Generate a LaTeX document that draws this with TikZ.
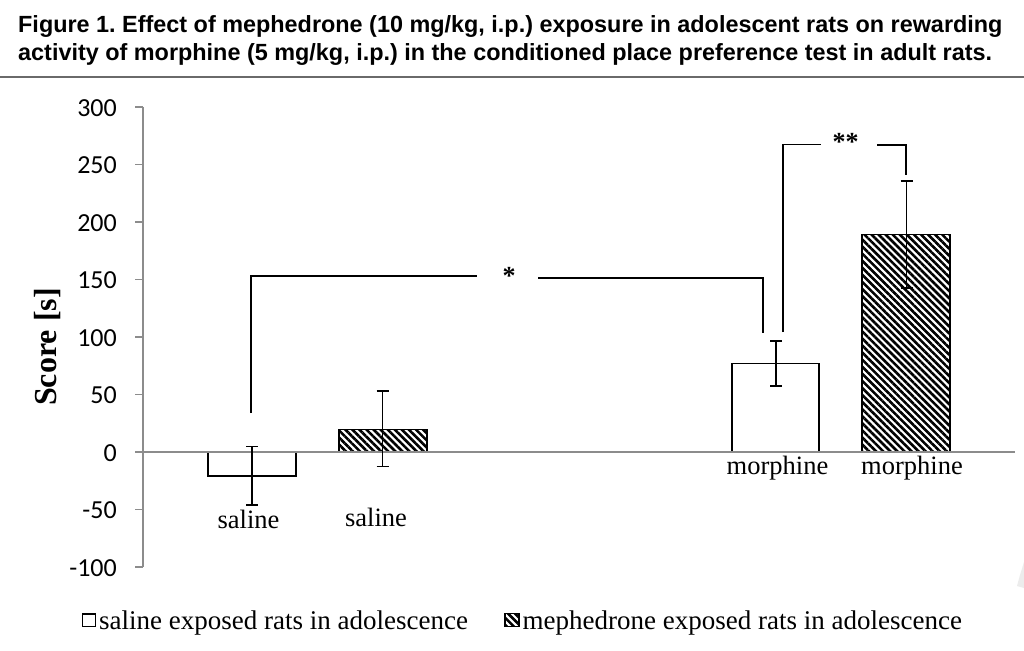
\documentclass[tikz,border=0pt]{standalone}
\usepackage{fontspec}
\setmainfont{Liberation Serif}
\newfontfamily\titlefont{Liberation Sans}
\newfontfamily\tickfont{Carlito}
\usetikzlibrary{patterns.meta}
\definecolor{axisgray}{HTML}{8C8C8C}
\definecolor{rulegray}{HTML}{6A6A6A}
\frenchspacing
\begin{document}
\begin{tikzpicture}[x=1pt,y=-1pt,
  axisline/.style={draw=axisgray,line width=1.4pt},
  barbox/.style={draw=black,line width=1.8pt},
  hatchfill/.style={pattern={Lines[angle=-45,distance=5pt,line width=2.6pt]}},
  errline/.style={draw=black,line width=1.8pt},
  bracketline/.style={draw=black,line width=1.8pt},
  catlabel/.style={font=\fontsize{26.5}{30}\selectfont,anchor=base,inner sep=0pt},
  ticklabel/.style={font=\tickfont\fontsize{26}{30}\selectfont,anchor=base east,inner sep=0pt},
  titletext/.style={font=\titlefont\bfseries\fontsize{23.4}{27}\selectfont,anchor=base west,inner sep=0pt},
  legendtext/.style={font=\fontsize{27}{30}\selectfont,anchor=base west,inner sep=0pt},
  startext/.style={font=\bfseries\fontsize{26}{30}\selectfont,anchor=base,inner sep=0pt}]
\useasboundingbox[fill=white] (0,0) rectangle (1024,650);

% title
\node[titletext] (title1) at (18,33) {Figure 1. Effect of mephedrone (10 mg/kg, i.p.) exposure in adolescent rats on rewarding};
\node[titletext] (title2) at (18,61) {activity of morphine (5 mg/kg, i.p.) in the conditioned place preference test in adult rats.};
\draw[draw=rulegray,line width=2.6pt] (0,77) -- (1024,77);

% axis
\draw[axisline] (143,107) -- (143,567);
\foreach \v in {300,250,...,-100}{
  \pgfmathsetmacro\yy{452-1.15*\v}
  \draw[axisline] (135,\yy) -- (143,\yy);
  \node[ticklabel] (t\v) at (117,\yy+9) {\v};
}
\node[font=\bfseries\fontsize{32}{34}\selectfont,rotate=90,inner sep=0pt] (ylab) at (48,347) {Score [s]};

% bars
\draw[barbox,fill=white] (208,452) rectangle (296,476);
\draw[barbox,hatchfill] (339,452) rectangle (427,429.5);
\draw[barbox,fill=white] (732,452) rectangle (819,363.5);
\draw[barbox,hatchfill] (862,452) rectangle (950,234.5);
\draw[axisline] (143,452) -- (1015,452);

% error bars
\foreach \x/\lo/\hi in {252/505/446.5, 382.5/466.5/391, 776/386/341, 906.5/288/181}{
  \draw[errline] (\x,\lo) -- (\x,\hi);
  \draw[errline] (\x-6,\lo) -- (\x+6,\lo);
  \draw[errline] (\x-6,\hi) -- (\x+6,\hi);
}

% category labels
\node[catlabel] (c1) at (248.5,528) {saline};
\node[catlabel] (c2) at (376,526.5) {saline};
\node[catlabel] (c3) at (777.5,474) {morphine};
\node[catlabel] (c4) at (912,474) {morphine};

% significance brackets
\coordinate (s1a) at (251,413);
\coordinate (s1b) at (477,276);
\coordinate (s1c) at (538,278);
\coordinate (s1d) at (763,333);
\node[startext] (star1) at (509,284) {*};
\draw[bracketline] (s1a) |- (s1b);
\draw[bracketline] (s1c) -| (s1d);

\coordinate (s2a) at (783,332);
\coordinate (s2b) at (821,144.5);
\coordinate (s2c) at (877,145);
\coordinate (s2d) at (906,175);
\node[startext] (star2) at (845.5,150) {**};
\draw[bracketline] (s2a) |- (s2b);
\draw[bracketline] (s2c) -| (s2d);

% legend
\draw[line width=1.5pt,fill=white] (82.5,614) rectangle (95.5,626.5);
\node[legendtext] (leg1) at (99,629.5) {saline exposed rats in adolescence};
\draw[line width=1.5pt,hatchfill] (505,613.5) rectangle (519,626.5);
\node[legendtext] (leg2) at (522.5,629.5) {mephedrone exposed rats in adolescence};

% faint scan mark at right edge
\fill[gray!15] (1024,562) -- (1020,575) -- (1017,586) -- (1024,588) -- cycle;
\end{tikzpicture}
\end{document}
